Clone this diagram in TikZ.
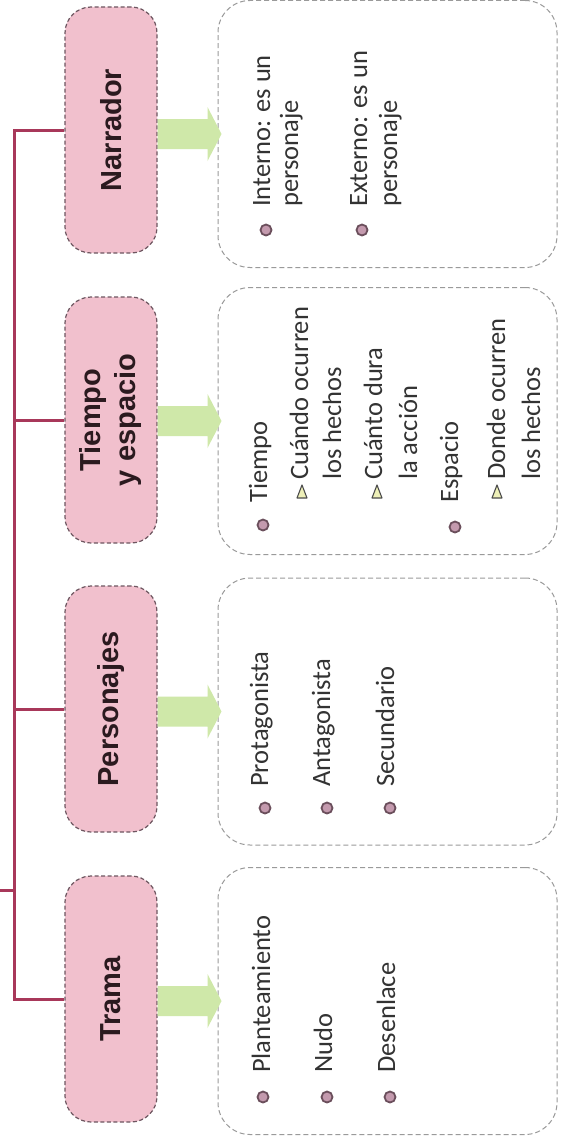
\documentclass[tikz,border=0pt]{standalone}
\usepackage{fontspec}
\usepackage{graphicx}
\newfontfamily\itemfont{Carlito}
\newfontfamily\labfont{Liberation Sans}
\usetikzlibrary{calc,shapes.geometric}
\definecolor{pinkfill}{HTML}{F1C0CD}
\definecolor{pinkedge}{HTML}{6E5660}
\definecolor{linkred}{HTML}{A8385A}
\definecolor{arrowgreen}{HTML}{CFE8A9}
\definecolor{listedge}{HTML}{9A9A9A}
\definecolor{itemtext}{HTML}{333333}
\definecolor{labtext}{HTML}{2B1A1F}
\definecolor{bulletfill}{HTML}{C49AAE}
\definecolor{bulletedge}{HTML}{6B4F5C}
\definecolor{trifill}{HTML}{EEF0B8}
\tikzset{
  catbox/.style={draw=pinkedge, dash pattern=on 4pt off 2.5pt, line width=1.2pt, fill=pinkfill,
    rounded corners=26pt, minimum width=92pt, minimum height=246pt, inner sep=0pt,
    text=labtext, font=\labfont\bfseries\fontsize{29}{35}\selectfont},
  listbox/.style={draw=listedge, dash pattern=on 5pt off 3pt, line width=1pt, fill=white,
    rounded corners=32pt, minimum width=339pt, minimum height=267pt, inner sep=0pt},
  link/.style={draw=linkred, line width=3pt},
  itemline/.style={rotate=90, anchor=base west, inner sep=0pt, text=itemtext,
    font=\itemfont\fontsize{26.5}{30}\selectfont},
  dot/.style={circle, minimum size=11pt, inner sep=0pt, draw=bulletedge, line width=1.8pt, fill=bulletfill},
  trishape/.style={draw=black!70, line width=1.1pt, fill=trifill, line join=round}
}
\newcommand\blockarrow[2]{%
  \coordinate (as) at (#2.west -| #1.east);
  \coordinate (ae) at (#2.west);
  \fill[arrowgreen] ($(as)+(0,-15)$) -- ($(ae)+(-10,-15)$) -- ($(ae)+(-10,-27)$)
    -- ($(ae)+(4,0)$) -- ($(ae)+(-10,27)$) -- ($(ae)+(-10,15)$) -- ($(as)+(0,15)$) -- cycle;}
\newcommand\tribullet[1]{%
  \draw[trishape] ($(#1)+(0,-7)$) -- ($(#1)+(5,6)$) -- ($(#1)+(-5,6)$) -- cycle;}
\begin{document}
\begin{tikzpicture}[x=1pt,y=-1pt]
\useasboundingbox (0,0) rectangle (560,1140);
\fill[white] (0,0) rectangle (560,1140);

% category boxes
\node[catbox] (narr) at (111,130) {\rotatebox{90}{Narrador}};
\node[catbox] (tiem) at (111,420) {\rotatebox{90}{\begin{tabular}{@{}c@{}}Tiempo\\y espacio\end{tabular}}};
\node[catbox] (pers) at (111,709) {\rotatebox{90}{Personajes}};
\node[catbox] (tram) at (111,999) {\rotatebox{90}{Trama}};

% list boxes
\node[listbox] (lnarr) at (387.5,134) {};
\node[listbox] (ltiem) at (387.5,421) {};
\node[listbox] (lpers) at (387.5,711.5) {};
\node[listbox] (ltram) at (387.5,1001) {};

% tree connectors
\coordinate (root) at (0,890);
\coordinate (trunk) at (14,890);
\draw[link] (narr.west) -- (narr.west -| trunk) -- (tram.west -| trunk) -- (tram.west);
\draw[link] (tiem.west) -- (tiem.west -| trunk);
\draw[link] (pers.west) -- (pers.west -| trunk);
\draw[link] (root) -- (trunk);

% green arrows
\blockarrow{narr}{lnarr}
\blockarrow{tiem}{ltiem}
\blockarrow{pers}{lpers}
\blockarrow{tram}{ltram}

% Narrador items
\node[dot] (nb1) at (266,230) {};
\node[itemline] (n1a) at (270,207) {Interno: es un};
\node[itemline] (n1b) at (298,207) {personaje};
\node[dot] (nb2) at (362,230) {};
\node[itemline] (n2a) at (367,207) {Externo: es un};
\node[itemline] (n2b) at (397,207) {personaje};

% Tiempo y espacio items
\node[dot] (tb1) at (263,525) {};
\node[itemline] (t1) at (267,503) {Tiempo};
\coordinate (tt1) at (302,492); \tribullet{tt1}
\node[itemline] (t1a) at (308,480) {Cuándo ocurren};
\node[itemline] (t1b) at (341,480) {los hechos};
\coordinate (tt2) at (377,492); \tribullet{tt2}
\node[itemline] (t2a) at (382,480) {Cuánto dura};
\node[itemline] (t2b) at (417,480) {la acción};
\node[dot] (tb2) at (455,527) {};
\node[itemline] (t2) at (458,503) {Espacio};
\coordinate (tt3) at (497,492); \tribullet{tt3}
\node[itemline] (t3a) at (505,480) {Donde ocurren};
\node[itemline] (t3b) at (540,480) {los hechos};

% Personajes items
\node[dot] (pb1) at (265,808) {};
\node[itemline] (p1) at (268,787) {Protagonista};
\node[dot] (pb2) at (327,808) {};
\node[itemline] (p2) at (330,787) {Antagonista};
\node[dot] (pb3) at (390,808) {};
\node[itemline] (p3) at (394,787) {Secundario};

% Trama items
\node[dot] (rb1) at (263,1097) {};
\node[itemline] (r1) at (270,1073) {Planteamiento};
\node[dot] (rb2) at (327,1097) {};
\node[itemline] (r2) at (332,1073) {Nudo};
\node[dot] (rb3) at (390,1097) {};
\node[itemline] (r3) at (395,1073) {Desenlace};
\end{tikzpicture}
\end{document}
